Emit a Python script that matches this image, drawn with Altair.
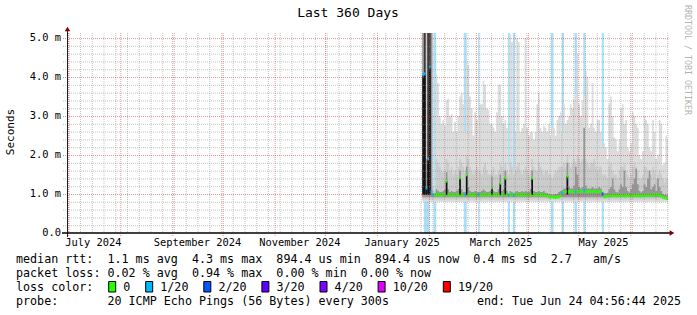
import altair as alt
import pandas as pd

MONO = "DejaVu Sans Mono"

# ---------------- data ----------------
X_START = alt.DateTime(year=2024, month=6, date=30, hours=5, minutes=24)
X_END = alt.DateTime(year=2025, month=6, date=23, hours=11, minutes=24)
Y_MAX = 5.13

first_day = "2025-01-28T00:00:00"

smoke_max = [
    5.13, 5.13, 5.13, 5.13, 5.13, 5.13, 1.2, 1.1, 4.05, 3.85,
    3.0, 2.8, 2.9, 2.75, 3.4, 3.45, 3.0, 3.05, 2.6, 2.85,
    2.6, 3.0, 3.5, 3.6, 3.3, 2.6, 4.4, 4.3, 3.5, 3.2,
    2.5, 3.1, 2.9, 2.9, 3.3, 3.3, 3.9, 3.8, 3.2, 3.15,
    2.8, 2.8, 2.7, 2.6, 3.1, 3.8, 3.8, 3.0, 2.8, 2.9,
    2.7, 1.7, 5.1, 4.9, 1.6, 2.6, 5.0, 4.9, 2.6, 2.7,
    2.8, 5.0, 2.7, 2.5, 2.6, 2.6, 2.4, 2.6, 3.3, 3.6,
    2.7, 2.6, 2.75, 2.7, 2.6, 2.8, 2.5, 2.7, 2.7, 2.5,
    2.9, 3.0, 3.1, 2.6, 3.3, 2.8, 2.9, 3.0, 3.3, 3.2,
    3.4, 3.6, 4.6, 3.3, 3.0, 3.4, 3.5, 4.15, 4.0, 2.7,
    2.8, 3.85, 2.7, 2.6, 2.9, 2.9, 2.6, 2.2, 2.3, 2.2,
    1.9, 3.3, 3.5, 3.0, 2.45, 2.4, 2.1, 2.4, 3.2, 3.3,
    2.8, 2.9, 2.2, 2.1, 2.3, 3.1, 3.0, 2.8, 2.7, 2.0,
    1.9, 2.1, 3.0, 2.9, 2.8, 2.2, 2.1, 2.9, 2.6, 1.9,
    2.0, 2.9, 2.8, 1.75, 1.8, 2.5, 2.4,
]

smoke_mid = [
    5.13, 5.13, 5.13, 5.13, 5.13, 5.13, 1.1, 1.1, 1.9, 1.8,
    1.7, 1.6, 1.55, 1.6, 1.9, 1.8, 1.6, 1.7, 1.5, 1.6,
    1.5, 1.7, 1.9, 1.8, 1.7, 1.6, 2.0, 1.9, 1.7, 1.6,
    1.5, 1.6, 1.7, 1.6, 1.6, 1.5, 1.7, 1.8, 1.6, 1.5,
    1.5, 1.6, 1.7, 1.5, 1.5, 1.6, 1.8, 1.7, 1.6, 1.8,
    1.6, 1.5, 1.8, 1.7, 1.5, 1.6, 1.7, 1.8, 1.6, 1.5,
    1.6, 1.7, 1.6, 1.5, 1.6, 1.9, 1.7, 1.6, 1.6, 1.8,
    1.7, 1.6, 1.5, 1.6, 1.6, 1.5, 1.5, 1.4, 1.5, 1.6,
    1.6, 1.7, 1.7, 1.7, 1.8, 1.7, 2.0, 1.8, 1.7, 1.8,
    1.9, 1.8, 2.0, 1.9, 1.8, 1.9, 1.9, 1.9, 1.8, 1.7,
    1.8, 1.8, 1.9, 1.7, 1.6, 1.7, 1.7, 1.5, 1.5, 1.5,
    1.4, 1.7, 1.8, 1.6, 1.5, 1.5, 1.4, 1.6, 1.7, 1.7,
    1.8, 1.6, 1.5, 1.4, 1.5, 1.7, 1.8, 1.7, 1.6, 1.4,
    1.4, 1.5, 1.7, 1.7, 1.6, 1.5, 1.5, 1.7, 1.6, 1.4,
    1.5, 1.6, 1.5, 1.4, 1.3, 1.4, 1.4,
]

smoke_dark = [
    5.13, 5.13, 1.9, 5.13, 5.13, 5.13, 1.02, 1.02, 1.12, 1.08,
    1.05, 1.05, 1.08, 1.12, 1.56, 1.12, 1.05, 1.08, 1.05, 1.05,
    1.08, 1.12, 1.6, 1.12, 1.05, 1.05, 1.7, 1.18, 1.08, 1.05,
    1.05, 1.08, 1.05, 1.05, 1.05, 1.08, 1.12, 1.08, 1.05, 1.05,
    1.08, 1.45, 1.08, 1.05, 1.05, 1.12, 1.5, 1.08, 1.12, 1.6,
    1.08, 1.02, 1.08, 1.05, 1.02, 1.05, 1.08, 1.05, 1.05, 1.08,
    1.05, 1.08, 1.05, 1.05, 1.12, 1.6, 1.08, 1.05, 1.05, 1.08,
    1.05, 1.05, 1.08, 1.03, 1.02, 1.0, 0.99, 0.99, 0.99, 1.0,
    1.0, 1.05, 1.08, 1.1, 1.14, 1.14, 1.8, 1.18, 1.14, 1.14,
    1.22, 1.7, 1.5, 1.18, 1.14, 1.18, 2.7, 1.22, 1.14, 1.14,
    1.14, 1.18, 1.14, 1.14, 1.14, 1.18, 1.14, 1.06, 1.02, 1.02,
    1.03, 1.12, 1.18, 1.4, 1.12, 1.06, 1.04, 1.12, 1.25, 1.18,
    1.6, 1.18, 1.08, 1.04, 1.12, 1.25, 1.4, 1.65, 1.25, 1.08,
    1.04, 1.08, 1.25, 1.18, 1.4, 1.6, 1.12, 1.18, 1.25, 1.08,
    1.4, 1.18, 1.08, 1.0, 0.98, 0.98, 0.97,
]

# near-black core of the two outage spikes at the start of the data
spike_core_days = [1, 3, 4]
spike_core_top = [5.13, 5.13, 5.13]

median_ms = [
    4.05, 4.08, 1.15, 1.9, 4.26, 1.05, 0.98, 0.98, 0.98, 0.98,
    0.98, 0.97, 0.98, 0.98, 1.33, 0.98, 0.97, 0.98, 0.98, 0.97,
    0.98, 0.98, 1.42, 0.98, 0.97, 0.98, 1.49, 0.98, 0.98, 0.97,
    0.98, 0.98, 0.98, 0.98, 0.97, 0.98, 0.98, 0.98, 0.97, 0.98,
    0.98, 1.17, 0.98, 0.98, 0.97, 0.98, 1.28, 0.98, 0.98, 1.41,
    0.98, 0.97, 0.98, 0.98, 0.97, 0.98, 0.98, 0.98, 0.97, 0.98,
    0.98, 0.98, 0.97, 0.98, 0.98, 1.41, 0.98, 0.97, 0.98, 0.98,
    0.97, 0.98, 0.98, 0.96, 0.95, 0.93, 0.92, 0.93, 0.92, 0.91,
    0.92, 0.93, 0.97, 1.02, 1.06, 1.06, 1.46, 1.06, 1.07, 1.06,
    1.06, 1.06, 1.07, 1.06, 1.06, 1.07, 1.1, 1.06, 1.06, 1.07,
    1.06, 1.06, 1.07, 1.06, 1.06, 1.07, 1.06, 1.0, 0.93, 0.94,
    0.95, 0.96, 0.95, 0.97, 0.96, 0.95, 0.97, 0.96, 0.97, 0.96,
    0.95, 0.96, 0.97, 0.96, 0.96, 0.95, 0.96, 0.96, 0.98, 0.96,
    0.95, 0.96, 0.96, 0.96, 0.97, 0.96, 0.96, 0.97, 0.98, 0.99,
    0.98, 0.97, 0.95, 0.92, 0.9, 0.89, 0.88,
]

median_loss_1_20 = [0, 1, 2, 3, 4, 5, 6, 25, 33, 51, 54, 83, 91, 96]
median_loss_2_20 = [107]

smoke_floor_light = 0.80
smoke_floor_mid = 0.86
smoke_floor_dark = 0.92
spike_floor = 0.98

loss_bar_start = [
    "2025-01-29T00:00:00", "2025-02-03T16:00:00", "2025-02-21T18:00:00",
    "2025-03-02T06:00:00", "2025-03-20T00:00:00", "2025-03-23T00:00:00",
    "2025-04-14T18:00:00", "2025-04-21T06:00:00", "2025-04-28T18:00:00",
    "2025-05-04T00:00:00", "2025-05-15T00:00:00",
]
loss_bar_end = [
    "2025-02-01T06:00:00", "2025-02-05T08:00:00", "2025-02-23T12:00:00",
    "2025-03-03T00:00:00", "2025-03-21T06:00:00", "2025-03-24T06:00:00",
    "2025-04-16T06:00:00", "2025-04-22T12:00:00", "2025-04-30T06:00:00",
    "2025-05-05T06:00:00", "2025-05-16T06:00:00",
]

loss_levels = ["0", "1/20", "2/20", "3/20", "4/20", "10/20", "19/20"]
loss_colors = ["#26ff00", "#00b8ff", "#0059ff", "#5e00ff", "#7e00ff", "#dd00ff", "#ff0000"]

month_lines = [
    "2024-07-01T00:00:00", "2024-08-01T00:00:00", "2024-09-01T00:00:00",
    "2024-10-01T00:00:00", "2024-11-01T00:00:00", "2024-12-01T00:00:00",
    "2025-01-01T00:00:00", "2025-02-01T00:00:00", "2025-03-01T00:00:00",
    "2025-04-01T00:00:00", "2025-05-01T00:00:00", "2025-06-01T00:00:00",
]
y_major = [1.0, 2.0, 3.0, 4.0, 5.0]
y_minor = [0.2, 0.4, 0.6, 0.8, 1.2, 1.4, 1.6, 1.8, 2.2, 2.4, 2.6, 2.8,
           3.2, 3.4, 3.6, 3.8, 4.2, 4.4, 4.6, 4.8]
y_label_vals = [0.0, 1.0, 2.0, 3.0, 4.0, 5.0]
y_label_text = ["0.0", "1.0 m", "2.0 m", "3.0 m", "4.0 m", "5.0 m"]
x_label_dates = ["2024-07-16T00:00:00", "2024-09-16T00:00:00", "2024-11-16T00:00:00",
                 "2025-01-16T00:00:00", "2025-03-16T00:00:00", "2025-05-16T00:00:00"]
x_label_text = ["July 2024", "September 2024", "November 2024",
                "January 2025", "March 2025", "May 2025"]

stat_rows = [
    "median rtt:  1.1 ms avg  4.3 ms max  894.4 us min  894.4 us now  0.4 ms sd  2.7   am/s",
    "packet loss: 0.02 % avg  0.94 % max  0.00 % min  0.00 % now",
    "loss color:",
    "probe:       20 ICMP Echo Pings (56 Bytes) every 300s",
]
end_text = "end: Tue Jun 24 04:56:44 2025"

# ---------------- tables ----------------
n = len(smoke_max)
t0 = pd.date_range(first_day, periods=n, freq="D")
loss = ["0"] * n
for i in median_loss_1_20:
    loss[i] = "1/20"
for i in median_loss_2_20:
    loss[i] = "2/20"
days = pd.DataFrame({
    "t0": t0, "t1": t0 + pd.Timedelta(days=1),
    "med": median_ms, "loss": loss,
})
days["base"] = spike_floor

core = pd.DataFrame({
    "t0": [t0[i] for i in spike_core_days],
    "t1": [t0[i] + pd.Timedelta(days=1) for i in spike_core_days],
    "top": spike_core_top,
})
core["lo"] = 1.1

t_area = list(t0) + [t0[-1] + pd.Timedelta(days=1)]
area = pd.DataFrame({
    "t": t_area,
    "max": smoke_max + [smoke_max[-1]],
    "mid": smoke_mid + [smoke_mid[-1]],
    "dark": smoke_dark + [smoke_dark[-1]],
})
area["lo_l"] = smoke_floor_light
area["lo_m"] = smoke_floor_mid
area["lo_d"] = smoke_floor_dark

lossdf = pd.DataFrame({"s": pd.to_datetime(loss_bar_start), "e": pd.to_datetime(loss_bar_end)})
weeks = pd.DataFrame({"t": pd.date_range("2024-07-01", "2025-06-23", freq="7D")})
months = pd.DataFrame({"t": pd.to_datetime(month_lines)})
hmaj = pd.DataFrame({"v": y_major})
hmin = pd.DataFrame({"v": y_minor})
ylab = pd.DataFrame({"v": y_label_vals, "lab": y_label_text})
xlab = pd.DataFrame({"t": pd.to_datetime(x_label_dates), "lab": x_label_text})
one = pd.DataFrame({"a": [0]})

xs = alt.Scale(domain=[X_START, X_END])
ys = alt.Scale(domain=[0, Y_MAX], nice=False, zero=False)


def X(f):
    return alt.X(f, type="temporal", scale=xs, axis=None)


def Y(f):
    return alt.Y(f, type="quantitative", scale=ys, axis=None)


layers = []

layers.append(alt.Chart(lossdf).mark_rect(color="#a9e0f8", clip=True).encode(
    x=X("s"), x2=alt.X2("e"), y=alt.value(0), y2=alt.value(200)))

layers.append(alt.Chart(area).mark_area(interpolate="step-after", color="#dcdcdc", clip=True).encode(
    x=X("t"), y=Y("lo_l"), y2=alt.Y2("max")))
layers.append(alt.Chart(area).mark_area(interpolate="step-after", color="#cbcbcb", clip=True).encode(
    x=X("t"), y=Y("lo_m"), y2=alt.Y2("mid")))
layers.append(alt.Chart(area).mark_area(interpolate="step-after", color="#969696", clip=True).encode(
    x=X("t"), y=Y("lo_d"), y2=alt.Y2("dark")))
layers.append(alt.Chart(core).mark_rect(color="#3a3a3a", clip=True).encode(
    x=X("t0"), x2=alt.X2("t1"), y=Y("lo"), y2=alt.Y2("top")))

layers.append(alt.Chart(days).transform_filter("datum.med > 1.1").mark_rect(color="#111111", clip=True).encode(
    x=X("t0"), x2=alt.X2("t1"), y=Y("base"), y2=alt.Y2("med")))

layers.append(alt.Chart(days).mark_rule(strokeWidth=3, clip=True).encode(
    x=X("t0"), x2=alt.X2("t1"), y=Y("med"),
    color=alt.Color("loss:N", scale=alt.Scale(domain=loss_levels, range=loss_colors), legend=None)))

# grid (drawn over the data, as rrdtool does)
layers.append(alt.Chart(weeks).mark_rule(color="#8c8c8c", opacity=0.5, strokeDash=[1, 1], xOffset=0.5).encode(
    x=X("t"), y=alt.value(0), y2=alt.value(200)))
layers.append(alt.Chart(hmin).mark_rule(color="#8c8c8c", opacity=0.5, strokeDash=[1, 1], yOffset=0.5).encode(
    y=Y("v"), x=alt.value(-4), x2=alt.value(601)))
layers.append(alt.Chart(months).mark_rule(color="#c83c3c", opacity=0.55, strokeDash=[1, 1], xOffset=0.5).encode(
    x=X("t"), y=alt.value(0), y2=alt.value(203)))
layers.append(alt.Chart(hmaj).mark_rule(color="#c83c3c", opacity=0.55, strokeDash=[1, 1], yOffset=0.5).encode(
    y=Y("v"), x=alt.value(-4), x2=alt.value(601)))

# axes
layers.append(alt.Chart(one).mark_rule(color="#202020", strokeWidth=1).encode(
    x=alt.value(0.5), y=alt.value(-3), y2=alt.value(204)))
layers.append(alt.Chart(one).mark_rule(color="#000000", strokeWidth=1.5).encode(
    x=alt.value(-5), x2=alt.value(603), y=alt.value(200)))
layers.append(alt.Chart(one).mark_point(shape="triangle-up", filled=True, size=30, color="#7f0000", opacity=1).encode(
    x=alt.value(0.5), y=alt.value(-4)))
layers.append(alt.Chart(one).mark_point(shape="triangle-right", filled=True, size=30, color="#7f0000", opacity=1).encode(
    x=alt.value(605), y=alt.value(200)))

layers.append(alt.Chart(ylab).mark_text(align="right", baseline="middle", font=MONO, fontSize=10.4, color="black").encode(
    y=Y("v"), x=alt.value(-6), text="lab:N"))
layers.append(alt.Chart(xlab).mark_text(align="center", baseline="middle", font=MONO, fontSize=10.4, color="black").encode(
    x=X("t"), y=alt.value(209.7), text="lab:N"))

# titles
layers.append(alt.Chart(one).mark_text(align="center", baseline="middle", font=MONO, fontSize=13, color="black").encode(
    x=alt.value(281), y=alt.value(-20), text=alt.value("Last 360 Days")))
layers.append(alt.Chart(one).mark_text(align="center", baseline="middle", font=MONO, fontSize=11, angle=270, color="black").encode(
    x=alt.value(-56), y=alt.value(99), text=alt.value("Seconds")))
layers.append(alt.Chart(one).mark_text(align="center", baseline="middle", font=MONO, fontSize=8.3, angle=90, color="#b4b4b4").encode(
    x=alt.value(620), y=alt.value(27), text=alt.value("RRDTOOL / TOBI OETIKER")))

# legend text rows
row_y = [225.7, 240.0, 254.0, 268.3]
for txt, yy in zip(stat_rows, row_y):
    layers.append(alt.Chart(one).mark_text(align="left", baseline="middle", font=MONO, fontSize=11.7, color="black").encode(
        x=alt.value(-51), y=alt.value(yy), text=alt.value(txt.replace(" ", "\u00a0"))))
layers.append(alt.Chart(one).mark_text(align="right", baseline="middle", font=MONO, fontSize=11.7, color="black").encode(
    x=alt.value(614), y=alt.value(268.3), text=alt.value(end_text.replace(" ", "\u00a0"))))

box_x = [108.7, 145.7, 203.8, 261.9, 320.0, 378.1, 443.3]
for bx, lab, col in zip(box_x, loss_levels, loss_colors):
    layers.append(alt.Chart(one).mark_rect(color=col, stroke="black", strokeWidth=1).encode(
        x=alt.value(bx - 67), x2=alt.value(bx - 67 + 7), y=alt.value(248.5), y2=alt.value(259)))
    layers.append(alt.Chart(one).mark_text(align="left", baseline="middle", font=MONO, fontSize=11.7, color="black").encode(
        x=alt.value(bx - 67 + 14.6), y=alt.value(254.0), text=alt.value(lab)))

chart = alt.layer(*layers).properties(
    width=601, height=200,
    padding={"left": 67, "top": 33, "right": 29, "bottom": 82},
    autosize=alt.AutoSizeParams(type="none"),
    background="white",
).configure_view(stroke=None)

chart.save("out.html", embed_options={"renderer": "svg", "actions": False})
